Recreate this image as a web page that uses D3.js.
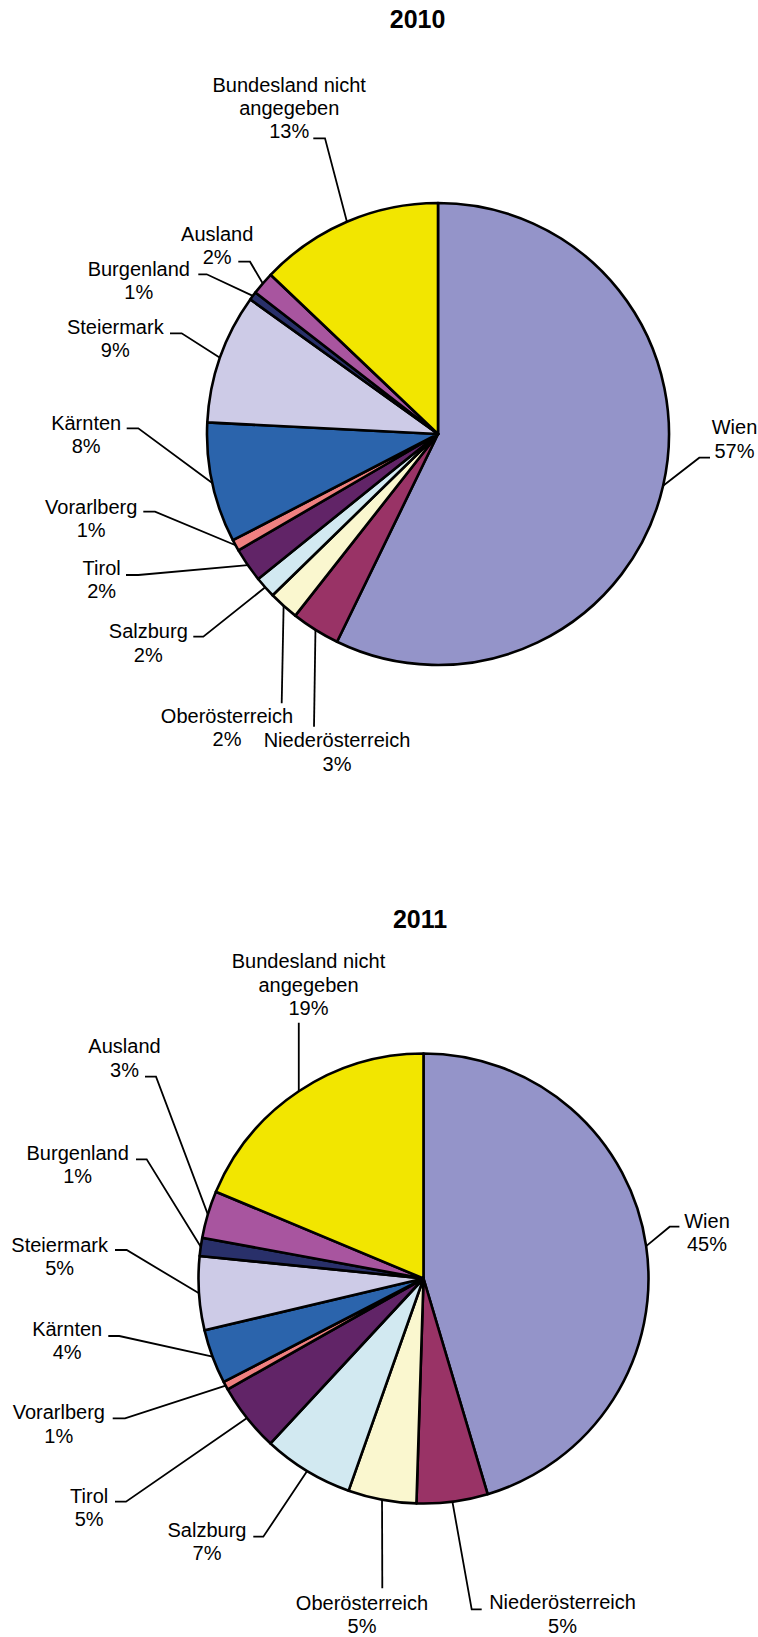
<!DOCTYPE html>
<html><head><meta charset="utf-8">
<script src="https://cdn.jsdelivr.net/npm/d3@7"></script>
<style>
body{margin:0;background:#fff}
svg{display:block}
text{font-family:"Liberation Sans",Arial,sans-serif;fill:#000}
</style>
</head><body>
<svg id="c" width="758" height="1637"></svg>
<script>
// ---- data ----
const categories = ["Wien","Niederösterreich","Oberösterreich","Salzburg","Tirol","Vorarlberg","Kärnten","Steiermark","Burgenland","Ausland","Bundesland nicht angegeben"];
const labelLines = [["Wien"],["Niederösterreich"],["Oberösterreich"],["Salzburg"],["Tirol"],["Vorarlberg"],["Kärnten"],["Steiermark"],["Burgenland"],["Ausland"],["Bundesland nicht","angegeben"]];
const years = ["2010","2011"];
const values2010 = [57.2,3.4,2.1,1.5,2.4,0.8,8.4,9.1,0.6,1.6,12.9];
const values2011 = [45.4,5.1,4.9,6.5,4.9,0.6,3.9,5.3,1.3,3.4,18.7];
const colors = ["#9494c9","#993366","#faf7cf","#d2e9f1","#612467","#ef8080","#2b64ac","#cdcbe7","#29306a","#a8559f","#f2e600"];

// ---- layout (positions only) ----
const layouts = [
  {title:[417.6,28.3], cx:438, cy:434, r:231, labels:[
    {x:734.5,y:434.3,lead:[[710,457.7],[699.3,457.7]]},
    {x:337,y:747.3,lead:[[314,726.7],[314,726.7]]},
    {x:227,y:722.7,lead:[[281.7,703.3],[281.7,703.3]]},
    {x:148.3,y:638.3,lead:[[193.3,636.7],[203.3,636.7]]},
    {x:101.7,y:575,lead:[[126,575],[138.3,575]]},
    {x:91.2,y:514,lead:[[143.3,511.7],[155,511.7]]},
    {x:86.2,y:430,lead:[[126.7,428.3],[138.3,428.3]]},
    {x:115.3,y:334,lead:[[170,333.3],[181.7,333.3]]},
    {x:138.8,y:275.7,lead:[[198.3,274.3],[206.7,274.3]]},
    {x:217.2,y:241,lead:[[238.3,261.7],[250,261.7]]},
    {x:289.2,y:91.7,lead:[[313.3,138.3],[325,138.3]]}
  ]},
  {title:[420,928.3], cx:423.5, cy:1278.5, r:225, labels:[
    {x:707,y:1227.7,lead:[[679.4,1226.7],[669.7,1226.7]]},
    {x:562.5,y:1609.3,lead:[[481.7,1609.3],[471.7,1609.3]]},
    {x:362,y:1610,lead:[[382.3,1588.3],[382.3,1588.3]]},
    {x:207,y:1536.7,lead:[[253.3,1536.7],[263.3,1536.7]]},
    {x:89.2,y:1502.7,lead:[[115,1501.7],[126,1501.7]]},
    {x:58.8,y:1419.3,lead:[[112.7,1418.3],[125,1418.3]]},
    {x:67.2,y:1336,lead:[[108.3,1336],[119.3,1336]]},
    {x:59.7,y:1251.7,lead:[[115,1250],[126.7,1250]]},
    {x:77.7,y:1160,lead:[[136,1159.3],[146.7,1159.3]]},
    {x:124.5,y:1053.3,lead:[[145,1076.7],[156,1076.7]]},
    {x:308.5,y:968.3,lead:[[298.8,1022.7],[298.8,1022.7]]}
  ]}
];

const svg = d3.select("#c");
const lineH = 23.3;
const datasets = [values2010, values2011];
const pie = d3.pie().sort(null).value(d => d);

datasets.forEach((vals, k) => {
  const L = layouts[k];
  svg.append("text").attr("x", L.title[0]).attr("y", L.title[1])
    .attr("text-anchor","middle").attr("font-size",25).attr("font-weight","bold")
    .text(years[k]);

  const arcs = pie(vals);
  const arc = d3.arc().innerRadius(0).outerRadius(L.r);
  const g = svg.append("g").attr("transform", `translate(${L.cx},${L.cy})`);
  g.selectAll("path").data(arcs).join("path")
    .attr("d", arc)
    .attr("fill", (d,i) => colors[i])
    .attr("stroke", "#000").attr("stroke-width", 2.6).attr("stroke-linejoin","round");

  const line = d3.line();
  arcs.forEach((a, i) => {
    const lab = L.labels[i];
    const m = (a.startAngle + a.endAngle) / 2;
    const edge = [L.cx + Math.sin(m) * L.r, L.cy - Math.cos(m) * L.r];
    svg.append("path").attr("d", line([lab.lead[0], lab.lead[1], edge]))
      .attr("fill","none").attr("stroke","#000").attr("stroke-width",1.8);
    const t = svg.append("text").attr("text-anchor","middle").attr("font-size",20);
    const lines = labelLines[i].concat([Math.round(vals[i]) + "%"]);
    lines.forEach((s, j) => {
      t.append("tspan").attr("x", lab.x).attr("y", lab.y + j * lineH).text(s);
    });
  });
});
</script>
</body></html>
